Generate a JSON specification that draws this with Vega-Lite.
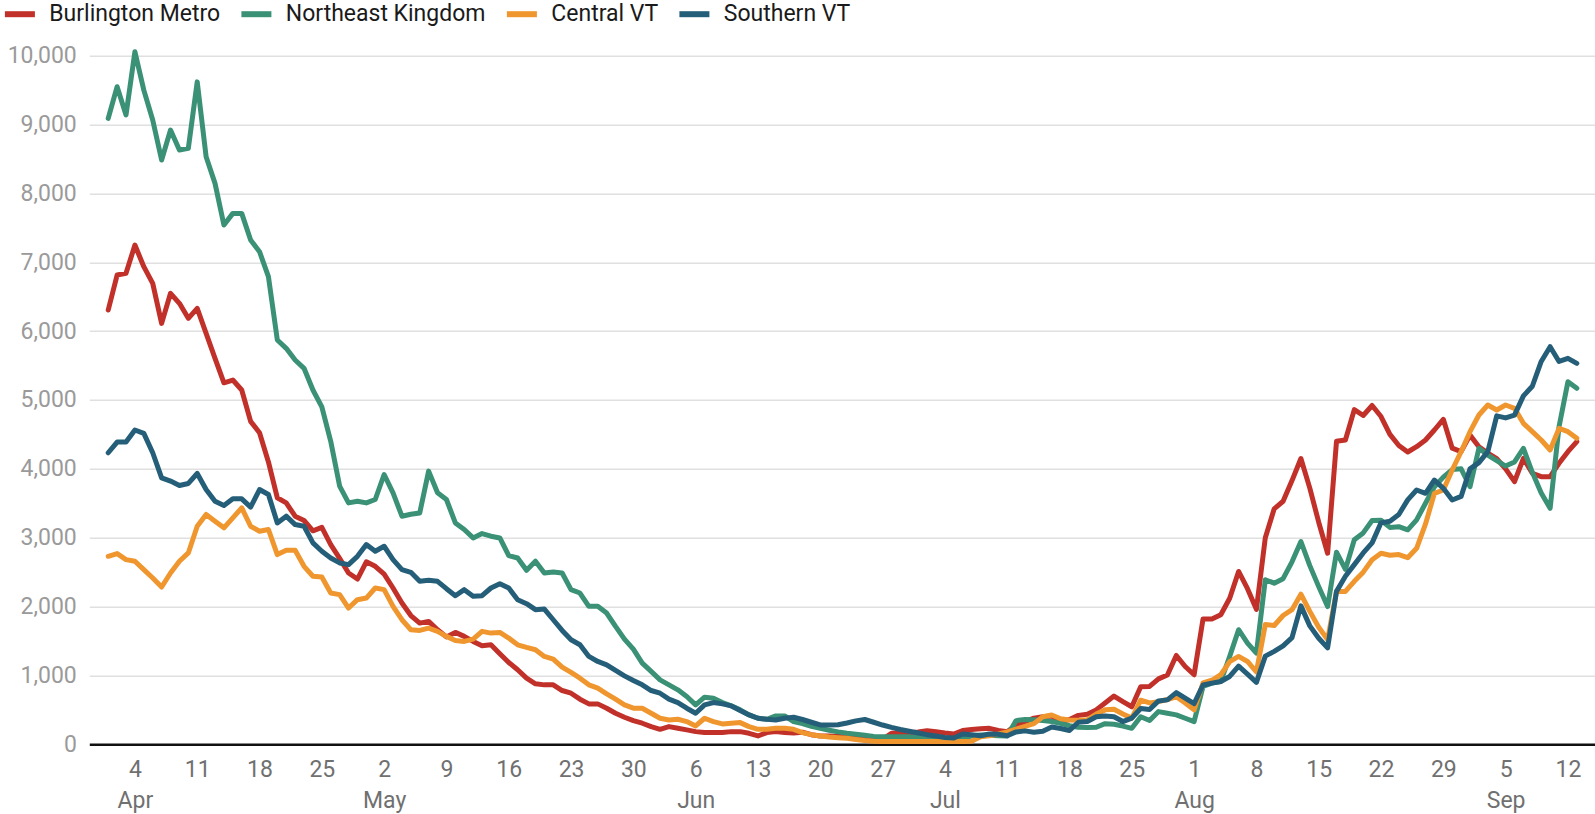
{
  "$schema": "https://vega.github.io/schema/vega-lite/v6.json",
  "autosize": {"type": "none"},
  "padding": {"left": 89.3, "top": 55.7, "right": 0, "bottom": 70},
  "width": 1505.7,
  "height": 688.6,
  "background": "white",
  "config": {"view": {"stroke": null}, "font": "Roboto"},
  "data": {"values": [
{"date":"2022-04-01","Burlington Metro":6307,"Northeast Kingdom":9090,"Central VT":2730,"Southern VT":4234},
{"date":"2022-04-02","Burlington Metro":6815,"Northeast Kingdom":9550,"Central VT":2769,"Southern VT":4389},
{"date":"2022-04-03","Burlington Metro":6840,"Northeast Kingdom":9140,"Central VT":2682,"Southern VT":4389},
{"date":"2022-04-04","Burlington Metro":7250,"Northeast Kingdom":10058,"Central VT":2658,"Southern VT":4564},
{"date":"2022-04-05","Burlington Metro":6936,"Northeast Kingdom":9500,"Central VT":2537,"Southern VT":4515},
{"date":"2022-04-06","Burlington Metro":6694,"Northeast Kingdom":9066,"Central VT":2415,"Southern VT":4234},
{"date":"2022-04-07","Burlington Metro":6113,"Northeast Kingdom":8485,"Central VT":2284,"Southern VT":3870},
{"date":"2022-04-08","Burlington Metro":6549,"Northeast Kingdom":8920,"Central VT":2488,"Southern VT":3822},
{"date":"2022-04-09","Burlington Metro":6404,"Northeast Kingdom":8630,"Central VT":2658,"Southern VT":3759},
{"date":"2022-04-10","Burlington Metro":6186,"Northeast Kingdom":8655,"Central VT":2779,"Southern VT":3788},
{"date":"2022-04-11","Burlington Metro":6331,"Northeast Kingdom":9620,"Central VT":3167,"Southern VT":3933},
{"date":"2022-04-12","Burlington Metro":5968,"Northeast Kingdom":8533,"Central VT":3337,"Southern VT":3700},
{"date":"2022-04-13","Burlington Metro":5605,"Northeast Kingdom":8146,"Central VT":3240,"Southern VT":3530},
{"date":"2022-04-14","Burlington Metro":5250,"Northeast Kingdom":7541,"Central VT":3143,"Southern VT":3468},
{"date":"2022-04-15","Burlington Metro":5290,"Northeast Kingdom":7710,"Central VT":3288,"Southern VT":3565},
{"date":"2022-04-16","Burlington Metro":5145,"Northeast Kingdom":7710,"Central VT":3434,"Southern VT":3565},
{"date":"2022-04-17","Burlington Metro":4690,"Northeast Kingdom":7323,"Central VT":3167,"Southern VT":3444},
{"date":"2022-04-18","Burlington Metro":4525,"Northeast Kingdom":7154,"Central VT":3094,"Southern VT":3700},
{"date":"2022-04-19","Burlington Metro":4100,"Northeast Kingdom":6791,"Central VT":3119,"Southern VT":3628},
{"date":"2022-04-20","Burlington Metro":3580,"Northeast Kingdom":5871,"Central VT":2755,"Southern VT":3215},
{"date":"2022-04-21","Burlington Metro":3506,"Northeast Kingdom":5750,"Central VT":2818,"Southern VT":3313},
{"date":"2022-04-22","Burlington Metro":3312,"Northeast Kingdom":5581,"Central VT":2818,"Southern VT":3191},
{"date":"2022-04-23","Burlington Metro":3250,"Northeast Kingdom":5460,"Central VT":2585,"Southern VT":3167},
{"date":"2022-04-24","Burlington Metro":3100,"Northeast Kingdom":5145,"Central VT":2440,"Southern VT":2925},
{"date":"2022-04-25","Burlington Metro":3150,"Northeast Kingdom":4900,"Central VT":2430,"Southern VT":2803},
{"date":"2022-04-26","Burlington Metro":2900,"Northeast Kingdom":4400,"Central VT":2197,"Southern VT":2706},
{"date":"2022-04-27","Burlington Metro":2700,"Northeast Kingdom":3750,"Central VT":2173,"Southern VT":2634},
{"date":"2022-04-28","Burlington Metro":2488,"Northeast Kingdom":3506,"Central VT":1979,"Southern VT":2609},
{"date":"2022-04-29","Burlington Metro":2400,"Northeast Kingdom":3530,"Central VT":2100,"Southern VT":2730},
{"date":"2022-04-30","Burlington Metro":2650,"Northeast Kingdom":3506,"Central VT":2124,"Southern VT":2900},
{"date":"2022-05-01","Burlington Metro":2585,"Northeast Kingdom":3555,"Central VT":2270,"Southern VT":2803},
{"date":"2022-05-02","Burlington Metro":2470,"Northeast Kingdom":3918,"Central VT":2246,"Southern VT":2876},
{"date":"2022-05-03","Burlington Metro":2270,"Northeast Kingdom":3652,"Central VT":2003,"Southern VT":2682},
{"date":"2022-05-04","Burlington Metro":2052,"Northeast Kingdom":3312,"Central VT":1809,"Southern VT":2537},
{"date":"2022-05-05","Burlington Metro":1870,"Northeast Kingdom":3340,"Central VT":1664,"Southern VT":2498},
{"date":"2022-05-06","Burlington Metro":1760,"Northeast Kingdom":3360,"Central VT":1654,"Southern VT":2367},
{"date":"2022-05-07","Burlington Metro":1785,"Northeast Kingdom":3967,"Central VT":1688,"Southern VT":2381},
{"date":"2022-05-08","Burlington Metro":1664,"Northeast Kingdom":3652,"Central VT":1640,"Southern VT":2367},
{"date":"2022-05-09","Burlington Metro":1560,"Northeast Kingdom":3555,"Central VT":1567,"Southern VT":2260},
{"date":"2022-05-10","Burlington Metro":1625,"Northeast Kingdom":3215,"Central VT":1508,"Southern VT":2158},
{"date":"2022-05-11","Burlington Metro":1567,"Northeast Kingdom":3119,"Central VT":1494,"Southern VT":2246},
{"date":"2022-05-12","Burlington Metro":1494,"Northeast Kingdom":2997,"Central VT":1528,"Southern VT":2149},
{"date":"2022-05-13","Burlington Metro":1431,"Northeast Kingdom":3060,"Central VT":1640,"Southern VT":2158},
{"date":"2022-05-14","Burlington Metro":1445,"Northeast Kingdom":3022,"Central VT":1615,"Southern VT":2270},
{"date":"2022-05-15","Burlington Metro":1314,"Northeast Kingdom":2997,"Central VT":1625,"Southern VT":2333},
{"date":"2022-05-16","Burlington Metro":1188,"Northeast Kingdom":2740,"Central VT":1542,"Southern VT":2270},
{"date":"2022-05-17","Burlington Metro":1082,"Northeast Kingdom":2706,"Central VT":1445,"Southern VT":2100},
{"date":"2022-05-18","Burlington Metro":960,"Northeast Kingdom":2527,"Central VT":1407,"Southern VT":2042},
{"date":"2022-05-19","Burlington Metro":878,"Northeast Kingdom":2658,"Central VT":1373,"Southern VT":1955},
{"date":"2022-05-20","Burlington Metro":863,"Northeast Kingdom":2488,"Central VT":1276,"Southern VT":1964},
{"date":"2022-05-21","Burlington Metro":863,"Northeast Kingdom":2503,"Central VT":1237,"Southern VT":1809},
{"date":"2022-05-22","Burlington Metro":781,"Northeast Kingdom":2488,"Central VT":1120,"Southern VT":1654},
{"date":"2022-05-23","Burlington Metro":742,"Northeast Kingdom":2246,"Central VT":1043,"Southern VT":1518},
{"date":"2022-05-24","Burlington Metro":655,"Northeast Kingdom":2197,"Central VT":960,"Southern VT":1445},
{"date":"2022-05-25","Burlington Metro":587,"Northeast Kingdom":2003,"Central VT":863,"Southern VT":1276},
{"date":"2022-05-26","Burlington Metro":587,"Northeast Kingdom":2003,"Central VT":815,"Southern VT":1203},
{"date":"2022-05-27","Burlington Metro":524,"Northeast Kingdom":1906,"Central VT":732,"Southern VT":1154},
{"date":"2022-05-28","Burlington Metro":451,"Northeast Kingdom":1712,"Central VT":655,"Southern VT":1072},
{"date":"2022-05-29","Burlington Metro":393,"Northeast Kingdom":1528,"Central VT":572,"Southern VT":994},
{"date":"2022-05-30","Burlington Metro":344,"Northeast Kingdom":1382,"Central VT":524,"Southern VT":926},
{"date":"2022-05-31","Burlington Metro":306,"Northeast Kingdom":1179,"Central VT":524,"Southern VT":863},
{"date":"2022-06-01","Burlington Metro":257,"Northeast Kingdom":1058,"Central VT":451,"Southern VT":781},
{"date":"2022-06-02","Burlington Metro":218,"Northeast Kingdom":936,"Central VT":378,"Southern VT":742},
{"date":"2022-06-03","Burlington Metro":257,"Northeast Kingdom":863,"Central VT":354,"Southern VT":655},
{"date":"2022-06-04","Burlington Metro":233,"Northeast Kingdom":791,"Central VT":364,"Southern VT":606},
{"date":"2022-06-05","Burlington Metro":209,"Northeast Kingdom":694,"Central VT":330,"Southern VT":524},
{"date":"2022-06-06","Burlington Metro":184,"Northeast Kingdom":572,"Central VT":267,"Southern VT":451},
{"date":"2022-06-07","Burlington Metro":170,"Northeast Kingdom":684,"Central VT":378,"Southern VT":572},
{"date":"2022-06-08","Burlington Metro":170,"Northeast Kingdom":669,"Central VT":330,"Southern VT":606},
{"date":"2022-06-09","Burlington Metro":170,"Northeast Kingdom":606,"Central VT":296,"Southern VT":587},
{"date":"2022-06-10","Burlington Metro":184,"Northeast Kingdom":558,"Central VT":306,"Southern VT":558},
{"date":"2022-06-11","Burlington Metro":184,"Northeast Kingdom":500,"Central VT":315,"Southern VT":490},
{"date":"2022-06-12","Burlington Metro":160,"Northeast Kingdom":427,"Central VT":257,"Southern VT":427},
{"date":"2022-06-13","Burlington Metro":121,"Northeast Kingdom":378,"Central VT":218,"Southern VT":378},
{"date":"2022-06-14","Burlington Metro":170,"Northeast Kingdom":364,"Central VT":218,"Southern VT":364},
{"date":"2022-06-15","Burlington Metro":184,"Northeast Kingdom":412,"Central VT":233,"Southern VT":354},
{"date":"2022-06-16","Burlington Metro":170,"Northeast Kingdom":412,"Central VT":233,"Southern VT":378},
{"date":"2022-06-17","Burlington Metro":165,"Northeast Kingdom":330,"Central VT":218,"Southern VT":393},
{"date":"2022-06-18","Burlington Metro":175,"Northeast Kingdom":300,"Central VT":170,"Southern VT":360},
{"date":"2022-06-19","Burlington Metro":140,"Northeast Kingdom":260,"Central VT":140,"Southern VT":320},
{"date":"2022-06-20","Burlington Metro":121,"Northeast Kingdom":232,"Central VT":121,"Southern VT":281},
{"date":"2022-06-21","Burlington Metro":120,"Northeast Kingdom":205,"Central VT":105,"Southern VT":281},
{"date":"2022-06-22","Burlington Metro":115,"Northeast Kingdom":180,"Central VT":95,"Southern VT":285},
{"date":"2022-06-23","Burlington Metro":121,"Northeast Kingdom":160,"Central VT":87,"Southern VT":310},
{"date":"2022-06-24","Burlington Metro":115,"Northeast Kingdom":145,"Central VT":70,"Southern VT":340},
{"date":"2022-06-25","Burlington Metro":105,"Northeast Kingdom":130,"Central VT":55,"Southern VT":360},
{"date":"2022-06-26","Burlington Metro":85,"Northeast Kingdom":115,"Central VT":45,"Southern VT":320},
{"date":"2022-06-27","Burlington Metro":73,"Northeast Kingdom":110,"Central VT":40,"Southern VT":280},
{"date":"2022-06-28","Burlington Metro":160,"Northeast Kingdom":110,"Central VT":40,"Southern VT":245},
{"date":"2022-06-29","Burlington Metro":165,"Northeast Kingdom":110,"Central VT":40,"Southern VT":215},
{"date":"2022-06-30","Burlington Metro":169,"Northeast Kingdom":111,"Central VT":40,"Southern VT":190},
{"date":"2022-07-01","Burlington Metro":180,"Northeast Kingdom":100,"Central VT":40,"Southern VT":165},
{"date":"2022-07-02","Burlington Metro":198,"Northeast Kingdom":87,"Central VT":40,"Southern VT":140},
{"date":"2022-07-03","Burlington Metro":184,"Northeast Kingdom":80,"Central VT":40,"Southern VT":120},
{"date":"2022-07-04","Burlington Metro":165,"Northeast Kingdom":70,"Central VT":40,"Southern VT":100},
{"date":"2022-07-05","Burlington Metro":150,"Northeast Kingdom":63,"Central VT":40,"Southern VT":90},
{"date":"2022-07-06","Burlington Metro":200,"Northeast Kingdom":90,"Central VT":40,"Southern VT":150},
{"date":"2022-07-07","Burlington Metro":215,"Northeast Kingdom":120,"Central VT":45,"Southern VT":140},
{"date":"2022-07-08","Burlington Metro":225,"Northeast Kingdom":136,"Central VT":110,"Southern VT":125},
{"date":"2022-07-09","Burlington Metro":232,"Northeast Kingdom":130,"Central VT":125,"Southern VT":150},
{"date":"2022-07-10","Burlington Metro":200,"Northeast Kingdom":125,"Central VT":150,"Southern VT":145},
{"date":"2022-07-11","Burlington Metro":184,"Northeast Kingdom":121,"Central VT":180,"Southern VT":125},
{"date":"2022-07-12","Burlington Metro":281,"Northeast Kingdom":344,"Central VT":220,"Southern VT":180},
{"date":"2022-07-13","Burlington Metro":330,"Northeast Kingdom":360,"Central VT":260,"Southern VT":195},
{"date":"2022-07-14","Burlington Metro":380,"Northeast Kingdom":355,"Central VT":300,"Southern VT":175},
{"date":"2022-07-15","Burlington Metro":400,"Northeast Kingdom":344,"Central VT":400,"Southern VT":190},
{"date":"2022-07-16","Burlington Metro":411,"Northeast Kingdom":330,"Central VT":426,"Southern VT":250},
{"date":"2022-07-17","Burlington Metro":330,"Northeast Kingdom":305,"Central VT":370,"Southern VT":230},
{"date":"2022-07-18","Burlington Metro":360,"Northeast Kingdom":270,"Central VT":353,"Southern VT":200},
{"date":"2022-07-19","Burlington Metro":420,"Northeast Kingdom":247,"Central VT":350,"Southern VT":320},
{"date":"2022-07-20","Burlington Metro":435,"Northeast Kingdom":245,"Central VT":355,"Southern VT":330},
{"date":"2022-07-21","Burlington Metro":500,"Northeast Kingdom":247,"Central VT":440,"Southern VT":400},
{"date":"2022-07-22","Burlington Metro":600,"Northeast Kingdom":300,"Central VT":500,"Southern VT":411},
{"date":"2022-07-23","Burlington Metro":700,"Northeast Kingdom":290,"Central VT":508,"Southern VT":400},
{"date":"2022-07-24","Burlington Metro":620,"Northeast Kingdom":265,"Central VT":440,"Southern VT":330},
{"date":"2022-07-25","Burlington Metro":545,"Northeast Kingdom":232,"Central VT":380,"Southern VT":380},
{"date":"2022-07-26","Burlington Metro":837,"Northeast Kingdom":400,"Central VT":640,"Southern VT":520},
{"date":"2022-07-27","Burlington Metro":840,"Northeast Kingdom":345,"Central VT":600,"Southern VT":505},
{"date":"2022-07-28","Burlington Metro":950,"Northeast Kingdom":475,"Central VT":620,"Southern VT":630},
{"date":"2022-07-29","Burlington Metro":1007,"Northeast Kingdom":451,"Central VT":650,"Southern VT":645},
{"date":"2022-07-30","Burlington Metro":1290,"Northeast Kingdom":427,"Central VT":690,"Southern VT":750},
{"date":"2022-07-31","Burlington Metro":1130,"Northeast Kingdom":378,"Central VT":600,"Southern VT":670},
{"date":"2022-08-01","Burlington Metro":1010,"Northeast Kingdom":330,"Central VT":500,"Southern VT":590},
{"date":"2022-08-02","Burlington Metro":1819,"Northeast Kingdom":839,"Central VT":890,"Southern VT":861},
{"date":"2022-08-03","Burlington Metro":1819,"Northeast Kingdom":888,"Central VT":930,"Southern VT":888},
{"date":"2022-08-04","Burlington Metro":1882,"Northeast Kingdom":912,"Central VT":1010,"Southern VT":912},
{"date":"2022-08-05","Burlington Metro":2120,"Northeast Kingdom":1276,"Central VT":1200,"Southern VT":985},
{"date":"2022-08-06","Burlington Metro":2510,"Northeast Kingdom":1664,"Central VT":1276,"Southern VT":1135},
{"date":"2022-08-07","Burlington Metro":2260,"Northeast Kingdom":1470,"Central VT":1203,"Southern VT":1020},
{"date":"2022-08-08","Burlington Metro":1960,"Northeast Kingdom":1324,"Central VT":1050,"Southern VT":900},
{"date":"2022-08-09","Burlington Metro":3000,"Northeast Kingdom":2390,"Central VT":1740,"Southern VT":1280},
{"date":"2022-08-10","Burlington Metro":3420,"Northeast Kingdom":2340,"Central VT":1725,"Southern VT":1350},
{"date":"2022-08-11","Burlington Metro":3530,"Northeast Kingdom":2405,"Central VT":1870,"Southern VT":1430},
{"date":"2022-08-12","Burlington Metro":3830,"Northeast Kingdom":2650,"Central VT":1955,"Southern VT":1550},
{"date":"2022-08-13","Burlington Metro":4150,"Northeast Kingdom":2945,"Central VT":2180,"Southern VT":2010},
{"date":"2022-08-14","Burlington Metro":3720,"Northeast Kingdom":2595,"Central VT":1930,"Southern VT":1720},
{"date":"2022-08-15","Burlington Metro":3225,"Northeast Kingdom":2290,"Central VT":1700,"Southern VT":1540},
{"date":"2022-08-16","Burlington Metro":2775,"Northeast Kingdom":2000,"Central VT":1520,"Southern VT":1400},
{"date":"2022-08-17","Burlington Metro":4400,"Northeast Kingdom":2790,"Central VT":2220,"Southern VT":2221},
{"date":"2022-08-18","Burlington Metro":4420,"Northeast Kingdom":2540,"Central VT":2220,"Southern VT":2440},
{"date":"2022-08-19","Burlington Metro":4860,"Northeast Kingdom":2970,"Central VT":2367,"Southern VT":2609},
{"date":"2022-08-20","Burlington Metro":4775,"Northeast Kingdom":3070,"Central VT":2500,"Southern VT":2779},
{"date":"2022-08-21","Burlington Metro":4920,"Northeast Kingdom":3250,"Central VT":2680,"Southern VT":2925},
{"date":"2022-08-22","Burlington Metro":4760,"Northeast Kingdom":3254,"Central VT":2775,"Southern VT":3216},
{"date":"2022-08-23","Burlington Metro":4500,"Northeast Kingdom":3150,"Central VT":2745,"Southern VT":3240},
{"date":"2022-08-24","Burlington Metro":4340,"Northeast Kingdom":3160,"Central VT":2755,"Southern VT":3337},
{"date":"2022-08-25","Burlington Metro":4245,"Northeast Kingdom":3115,"Central VT":2710,"Southern VT":3550},
{"date":"2022-08-26","Burlington Metro":4322,"Northeast Kingdom":3260,"Central VT":2846,"Southern VT":3693},
{"date":"2022-08-27","Burlington Metro":4419,"Northeast Kingdom":3500,"Central VT":3200,"Southern VT":3645},
{"date":"2022-08-28","Burlington Metro":4564,"Northeast Kingdom":3740,"Central VT":3645,"Southern VT":3838},
{"date":"2022-08-29","Burlington Metro":4719,"Northeast Kingdom":3880,"Central VT":3693,"Southern VT":3717},
{"date":"2022-08-30","Burlington Metro":4300,"Northeast Kingdom":3990,"Central VT":3983,"Southern VT":3548},
{"date":"2022-08-31","Burlington Metro":4250,"Northeast Kingdom":4000,"Central VT":4250,"Southern VT":3600},
{"date":"2022-09-01","Burlington Metro":4490,"Northeast Kingdom":3741,"Central VT":4540,"Southern VT":4000},
{"date":"2022-09-02","Burlington Metro":4320,"Northeast Kingdom":4300,"Central VT":4782,"Southern VT":4090},
{"date":"2022-09-03","Burlington Metro":4230,"Northeast Kingdom":4200,"Central VT":4927,"Southern VT":4250},
{"date":"2022-09-04","Burlington Metro":4150,"Northeast Kingdom":4120,"Central VT":4855,"Southern VT":4770},
{"date":"2022-09-05","Burlington Metro":4000,"Northeast Kingdom":4040,"Central VT":4927,"Southern VT":4740},
{"date":"2022-09-06","Burlington Metro":3814,"Northeast Kingdom":4100,"Central VT":4879,"Southern VT":4780},
{"date":"2022-09-07","Burlington Metro":4153,"Northeast Kingdom":4298,"Central VT":4661,"Southern VT":5060},
{"date":"2022-09-08","Burlington Metro":3935,"Northeast Kingdom":3950,"Central VT":4540,"Southern VT":5200},
{"date":"2022-09-09","Burlington Metro":3887,"Northeast Kingdom":3650,"Central VT":4419,"Southern VT":5560},
{"date":"2022-09-10","Burlington Metro":3887,"Northeast Kingdom":3427,"Central VT":4274,"Southern VT":5774},
{"date":"2022-09-11","Burlington Metro":4080,"Northeast Kingdom":4613,"Central VT":4588,"Southern VT":5560},
{"date":"2022-09-12","Burlington Metro":4250,"Northeast Kingdom":5266,"Central VT":4540,"Southern VT":5605},
{"date":"2022-09-13","Burlington Metro":4395,"Northeast Kingdom":5169,"Central VT":4443,"Southern VT":5532}
  ]},
  "transform": [
    {"fold": ["Burlington Metro", "Northeast Kingdom", "Central VT", "Southern VT"], "as": ["region", "value"]}
  ],
  "mark": {"type": "line", "strokeWidth": 5, "strokeCap": "round", "strokeJoin": "round", "clip": false},
  "encoding": {
    "x": {
      "field": "date", "type": "temporal",
      "scale": {"type": "utc", "domain": [{"year": 2022, "month": 3, "date": 29, "hours": 21, "utc": true}, {"year": 2022, "month": 9, "date": 15, "hours": 1, "utc": true}]},
      "axis": {
        "title": null,
        "grid": false,
        "ticks": false,
        "domain": true,
        "domainColor": "#111111",
        "domainWidth": 2.5,
        "labelFont": "Roboto",
        "labelFontSize": 23,
        "labelColor": "#707070",
        "labelPadding": 14,
        "labelLineHeight": 31,
        "labelBaseline": "top",
        "labelAlign": "center",
        "labelFlush": false,
        "labelOverlap": false,
        "values": [
          {"year": 2022, "month": 4, "date": 4, "utc": true},
          {"year": 2022, "month": 4, "date": 11, "utc": true},
          {"year": 2022, "month": 4, "date": 18, "utc": true},
          {"year": 2022, "month": 4, "date": 25, "utc": true},
          {"year": 2022, "month": 5, "date": 2, "utc": true},
          {"year": 2022, "month": 5, "date": 9, "utc": true},
          {"year": 2022, "month": 5, "date": 16, "utc": true},
          {"year": 2022, "month": 5, "date": 23, "utc": true},
          {"year": 2022, "month": 5, "date": 30, "utc": true},
          {"year": 2022, "month": 6, "date": 6, "utc": true},
          {"year": 2022, "month": 6, "date": 13, "utc": true},
          {"year": 2022, "month": 6, "date": 20, "utc": true},
          {"year": 2022, "month": 6, "date": 27, "utc": true},
          {"year": 2022, "month": 7, "date": 4, "utc": true},
          {"year": 2022, "month": 7, "date": 11, "utc": true},
          {"year": 2022, "month": 7, "date": 18, "utc": true},
          {"year": 2022, "month": 7, "date": 25, "utc": true},
          {"year": 2022, "month": 8, "date": 1, "utc": true},
          {"year": 2022, "month": 8, "date": 8, "utc": true},
          {"year": 2022, "month": 8, "date": 15, "utc": true},
          {"year": 2022, "month": 8, "date": 22, "utc": true},
          {"year": 2022, "month": 8, "date": 29, "utc": true},
          {"year": 2022, "month": 9, "date": 5, "utc": true},
          {"year": 2022, "month": 9, "date": 12, "utc": true}
        ],
        "labelExpr": "utcdate(datum.value) <= 7 ? [utcFormat(datum.value, '%-d'), utcFormat(datum.value, '%b')] : utcFormat(datum.value, '%-d')"
      }
    },
    "y": {
      "field": "value", "type": "quantitative",
      "scale": {"domain": [0, 10000], "nice": false},
      "axis": {
        "title": null,
        "values": [0, 1000, 2000, 3000, 4000, 5000, 6000, 7000, 8000, 9000, 10000],
        "format": ",.0f",
        "domain": false,
        "ticks": false,
        "grid": true,
        "gridColor": "#e0e0e0",
        "gridWidth": 1.6,
        "labelFont": "Roboto",
        "labelFontSize": 23,
        "labelColor": "#9a9a9a",
        "labelPadding": 13
      }
    },
    "color": {
      "field": "region", "type": "nominal",
      "scale": {
        "domain": ["Burlington Metro", "Northeast Kingdom", "Central VT", "Southern VT"],
        "range": ["#C1312A", "#3A9176", "#F0962F", "#255E78"]
      },
      "legend": {
        "title": null,
        "orient": "none",
        "legendX": -87.4,
        "legendY": -59.5,
        "direction": "horizontal",
        "padding": 0,
        "symbolType": "stroke",
        "symbolSize": 900,
        "symbolStrokeWidth": 6,
        "labelFont": "Roboto",
        "labelFontSize": 23,
        "labelColor": "#1a1a1a",
        "labelOffset": 11.4,
        "columnPadding": 8.5,
        "labelLimit": 400
      }
    }
  }
}
